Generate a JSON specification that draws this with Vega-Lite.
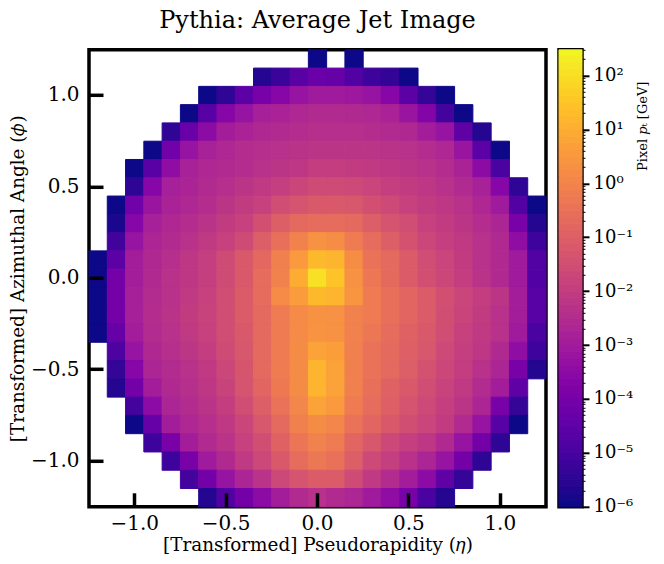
{
  "$schema": "https://vega.github.io/schema/vega-lite/v6.json",
  "description": "Average jet image heatmap with a log colour bar",
  "background": "white",
  "padding": {"left": 6, "top": 6.8, "right": 0, "bottom": 0},
  "spacing": 7,
  "config": {
    "view": {"continuousWidth": 457},
    "axis": {"labelFont": "DejaVu Serif", "titleFont": "DejaVu Serif", "grid": false}
  },
  "hconcat": [
    {
      "title": {"text": "Pythia: Average Jet Image", "font": "DejaVu Serif", "fontSize": 24, "fontWeight": "normal", "anchor": "middle", "offset": 16, "color": "black"},
      "width": 457,
      "height": 457,
      "view": {"stroke": "black", "strokeWidth": 3.5, "fill": "white"},
      "data": {"values": [
        {"eta":0,"phi":1.2,"pt":1e-6},{"eta":0.2,"phi":1.2,"pt":1e-6},
        {"eta":-0.3,"phi":1.1,"pt":2e-6},{"eta":-0.2,"phi":1.1,"pt":5e-6},{"eta":-0.1,"phi":1.1,"pt":2e-5},{"eta":0,"phi":1.1,"pt":5e-5},{"eta":0.1,"phi":1.1,"pt":4e-5},{"eta":0.2,"phi":1.1,"pt":1.5e-5},{"eta":0.3,"phi":1.1,"pt":6e-6},{"eta":0.4,"phi":1.1,"pt":3.5e-6},{"eta":0.5,"phi":1.1,"pt":1e-6},
        {"eta":-0.6,"phi":1.0,"pt":1e-6},{"eta":-0.5,"phi":1.0,"pt":3e-6},{"eta":-0.4,"phi":1.0,"pt":2.5e-5},{"eta":-0.3,"phi":1.0,"pt":1e-4},{"eta":-0.2,"phi":1.0,"pt":2e-4},{"eta":-0.1,"phi":1.0,"pt":5e-4},{"eta":0,"phi":1.0,"pt":8e-4},{"eta":0.1,"phi":1.0,"pt":8e-4},{"eta":0.2,"phi":1.0,"pt":7e-4},{"eta":0.3,"phi":1.0,"pt":5e-4},{"eta":0.4,"phi":1.0,"pt":2e-4},{"eta":0.5,"phi":1.0,"pt":2.5e-5},{"eta":0.6,"phi":1.0,"pt":4e-6},{"eta":0.7,"phi":1.0,"pt":1e-6},
        {"eta":-0.7,"phi":0.9,"pt":1e-6},{"eta":-0.6,"phi":0.9,"pt":2e-5},{"eta":-0.5,"phi":0.9,"pt":2e-4},{"eta":-0.4,"phi":0.9,"pt":5e-4},{"eta":-0.3,"phi":0.9,"pt":1.2e-3},{"eta":-0.2,"phi":0.9,"pt":1.5e-3},{"eta":-0.1,"phi":0.9,"pt":2e-3},{"eta":0,"phi":0.9,"pt":2.5e-3},{"eta":0.1,"phi":0.9,"pt":2.5e-3},{"eta":0.2,"phi":0.9,"pt":2.3e-3},{"eta":0.3,"phi":0.9,"pt":2e-3},{"eta":0.4,"phi":0.9,"pt":1.5e-3},{"eta":0.5,"phi":0.9,"pt":6e-4},{"eta":0.6,"phi":0.9,"pt":1.7e-4},{"eta":0.7,"phi":0.9,"pt":8e-6},{"eta":0.8,"phi":0.9,"pt":1e-6},
        {"eta":-0.8,"phi":0.8,"pt":3e-6},{"eta":-0.7,"phi":0.8,"pt":5e-5},{"eta":-0.6,"phi":0.8,"pt":3e-4},{"eta":-0.5,"phi":0.8,"pt":1e-3},{"eta":-0.4,"phi":0.8,"pt":1.5e-3},{"eta":-0.3,"phi":0.8,"pt":2.2e-3},{"eta":-0.2,"phi":0.8,"pt":2.5e-3},{"eta":-0.1,"phi":0.8,"pt":3e-3},{"eta":0,"phi":0.8,"pt":3.5e-3},{"eta":0.1,"phi":0.8,"pt":3.5e-3},{"eta":0.2,"phi":0.8,"pt":3.5e-3},{"eta":0.3,"phi":0.8,"pt":3e-3},{"eta":0.4,"phi":0.8,"pt":2.5e-3},{"eta":0.5,"phi":0.8,"pt":2.2e-3},{"eta":0.6,"phi":0.8,"pt":1e-3},{"eta":0.7,"phi":0.8,"pt":5e-4},{"eta":0.8,"phi":0.8,"pt":3e-5},{"eta":0.9,"phi":0.8,"pt":2e-6},
        {"eta":-0.9,"phi":0.7,"pt":1e-6},{"eta":-0.8,"phi":0.7,"pt":7e-5},{"eta":-0.7,"phi":0.7,"pt":5e-4},{"eta":-0.6,"phi":0.7,"pt":1.3e-3},{"eta":-0.5,"phi":0.7,"pt":2e-3},{"eta":-0.4,"phi":0.7,"pt":3e-3},{"eta":-0.3,"phi":0.7,"pt":3.5e-3},{"eta":-0.2,"phi":0.7,"pt":4e-3},{"eta":-0.1,"phi":0.7,"pt":4.5e-3},{"eta":0,"phi":0.7,"pt":5e-3},{"eta":0.1,"phi":0.7,"pt":5e-3},{"eta":0.2,"phi":0.7,"pt":5e-3},{"eta":0.3,"phi":0.7,"pt":5e-3},{"eta":0.4,"phi":0.7,"pt":4.5e-3},{"eta":0.5,"phi":0.7,"pt":4e-3},{"eta":0.6,"phi":0.7,"pt":3e-3},{"eta":0.7,"phi":0.7,"pt":2e-3},{"eta":0.8,"phi":0.7,"pt":6e-4},{"eta":0.9,"phi":0.7,"pt":2.5e-5},{"eta":1.0,"phi":0.7,"pt":1e-6},
        {"eta":-1.0,"phi":0.6,"pt":1e-6},{"eta":-0.9,"phi":0.6,"pt":2.2e-5},{"eta":-0.8,"phi":0.6,"pt":3.5e-4},{"eta":-0.7,"phi":0.6,"pt":1.3e-3},{"eta":-0.6,"phi":0.6,"pt":2e-3},{"eta":-0.5,"phi":0.6,"pt":2.5e-3},{"eta":-0.4,"phi":0.6,"pt":3e-3},{"eta":-0.3,"phi":0.6,"pt":4e-3},{"eta":-0.2,"phi":0.6,"pt":5e-3},{"eta":-0.1,"phi":0.6,"pt":6e-3},{"eta":0,"phi":0.6,"pt":9e-3},{"eta":0.1,"phi":0.6,"pt":9e-3},{"eta":0.2,"phi":0.6,"pt":8e-3},{"eta":0.3,"phi":0.6,"pt":7e-3},{"eta":0.4,"phi":0.6,"pt":6e-3},{"eta":0.5,"phi":0.6,"pt":5e-3},{"eta":0.6,"phi":0.6,"pt":4e-3},{"eta":0.7,"phi":0.6,"pt":3e-3},{"eta":0.8,"phi":0.6,"pt":1.5e-3},{"eta":0.9,"phi":0.6,"pt":3e-4},{"eta":1.0,"phi":0.6,"pt":1e-5},
        {"eta":-1.0,"phi":0.5,"pt":3e-6},{"eta":-0.9,"phi":0.5,"pt":2e-4},{"eta":-0.8,"phi":0.5,"pt":1.2e-3},{"eta":-0.7,"phi":0.5,"pt":1.6e-3},{"eta":-0.6,"phi":0.5,"pt":2.5e-3},{"eta":-0.5,"phi":0.5,"pt":3.5e-3},{"eta":-0.4,"phi":0.5,"pt":5e-3},{"eta":-0.3,"phi":0.5,"pt":7e-3},{"eta":-0.2,"phi":0.5,"pt":1e-2},{"eta":-0.1,"phi":0.5,"pt":1.6e-2},{"eta":0,"phi":0.5,"pt":2.2e-2},{"eta":0.1,"phi":0.5,"pt":2.2e-2},{"eta":0.2,"phi":0.5,"pt":2e-2},{"eta":0.3,"phi":0.5,"pt":1.5e-2},{"eta":0.4,"phi":0.5,"pt":1e-2},{"eta":0.5,"phi":0.5,"pt":8e-3},{"eta":0.6,"phi":0.5,"pt":6e-3},{"eta":0.7,"phi":0.5,"pt":4e-3},{"eta":0.8,"phi":0.5,"pt":2.5e-3},{"eta":0.9,"phi":0.5,"pt":1.3e-3},{"eta":1.0,"phi":0.5,"pt":2e-4},{"eta":1.1,"phi":0.5,"pt":3e-6},
        {"eta":-1.1,"phi":0.4,"pt":1e-6},{"eta":-1.0,"phi":0.4,"pt":7e-5},{"eta":-0.9,"phi":0.4,"pt":6e-4},{"eta":-0.8,"phi":0.4,"pt":1.5e-3},{"eta":-0.7,"phi":0.4,"pt":2e-3},{"eta":-0.6,"phi":0.4,"pt":3e-3},{"eta":-0.5,"phi":0.4,"pt":5e-3},{"eta":-0.4,"phi":0.4,"pt":8e-3},{"eta":-0.3,"phi":0.4,"pt":1.2e-2},{"eta":-0.2,"phi":0.4,"pt":2.5e-2},{"eta":-0.1,"phi":0.4,"pt":4e-2},{"eta":0,"phi":0.4,"pt":6e-2},{"eta":0.1,"phi":0.4,"pt":6e-2},{"eta":0.2,"phi":0.4,"pt":5e-2},{"eta":0.3,"phi":0.4,"pt":3e-2},{"eta":0.4,"phi":0.4,"pt":2e-2},{"eta":0.5,"phi":0.4,"pt":1.2e-2},{"eta":0.6,"phi":0.4,"pt":8e-3},{"eta":0.7,"phi":0.4,"pt":6e-3},{"eta":0.8,"phi":0.4,"pt":4e-3},{"eta":0.9,"phi":0.4,"pt":2e-3},{"eta":1.0,"phi":0.4,"pt":8e-4},{"eta":1.1,"phi":0.4,"pt":1.5e-5},{"eta":1.2,"phi":0.4,"pt":1e-6},
        {"eta":-1.1,"phi":0.3,"pt":1.5e-6},{"eta":-1.0,"phi":0.3,"pt":2e-4},{"eta":-0.9,"phi":0.3,"pt":1.2e-3},{"eta":-0.8,"phi":0.3,"pt":2e-3},{"eta":-0.7,"phi":0.3,"pt":3e-3},{"eta":-0.6,"phi":0.3,"pt":4.5e-3},{"eta":-0.5,"phi":0.3,"pt":8e-3},{"eta":-0.4,"phi":0.3,"pt":1.2e-2},{"eta":-0.3,"phi":0.3,"pt":3e-2},{"eta":-0.2,"phi":0.3,"pt":8e-2},{"eta":-0.1,"phi":0.3,"pt":1.7e-1},{"eta":0,"phi":0.3,"pt":2e-1},{"eta":0.1,"phi":0.3,"pt":2e-1},{"eta":0.2,"phi":0.3,"pt":1.7e-1},{"eta":0.3,"phi":0.3,"pt":8e-2},{"eta":0.4,"phi":0.3,"pt":4e-2},{"eta":0.5,"phi":0.3,"pt":2.5e-2},{"eta":0.6,"phi":0.3,"pt":1.2e-2},{"eta":0.7,"phi":0.3,"pt":8e-3},{"eta":0.8,"phi":0.3,"pt":5e-3},{"eta":0.9,"phi":0.3,"pt":3e-3},{"eta":1.0,"phi":0.3,"pt":1.7e-3},{"eta":1.1,"phi":0.3,"pt":1e-4},{"eta":1.2,"phi":0.3,"pt":2e-6},
        {"eta":-1.1,"phi":0.2,"pt":7e-6},{"eta":-1.0,"phi":0.2,"pt":5e-4},{"eta":-0.9,"phi":0.2,"pt":1.7e-3},{"eta":-0.8,"phi":0.2,"pt":2.5e-3},{"eta":-0.7,"phi":0.2,"pt":4e-3},{"eta":-0.6,"phi":0.2,"pt":7e-3},{"eta":-0.5,"phi":0.2,"pt":1.2e-2},{"eta":-0.4,"phi":0.2,"pt":2.2e-2},{"eta":-0.3,"phi":0.2,"pt":8e-2},{"eta":-0.2,"phi":0.2,"pt":2.5e-1},{"eta":-0.1,"phi":0.2,"pt":8e-1},{"eta":0,"phi":0.2,"pt":2},{"eta":0.1,"phi":0.2,"pt":1.5},{"eta":0.2,"phi":0.2,"pt":5e-1},{"eta":0.3,"phi":0.2,"pt":2e-1},{"eta":0.4,"phi":0.2,"pt":8e-2},{"eta":0.5,"phi":0.2,"pt":3.5e-2},{"eta":0.6,"phi":0.2,"pt":1.7e-2},{"eta":0.7,"phi":0.2,"pt":1e-2},{"eta":0.8,"phi":0.2,"pt":7e-3},{"eta":0.9,"phi":0.2,"pt":4e-3},{"eta":1.0,"phi":0.2,"pt":2.3e-3},{"eta":1.1,"phi":0.2,"pt":3.5e-4},{"eta":1.2,"phi":0.2,"pt":6e-6},
        {"eta":-1.2,"phi":0.1,"pt":1e-6},{"eta":-1.1,"phi":0.1,"pt":2.5e-5},{"eta":-1.0,"phi":0.1,"pt":1e-3},{"eta":-0.9,"phi":0.1,"pt":2.2e-3},{"eta":-0.8,"phi":0.1,"pt":3.5e-3},{"eta":-0.7,"phi":0.1,"pt":6e-3},{"eta":-0.6,"phi":0.1,"pt":1e-2},{"eta":-0.5,"phi":0.1,"pt":2.2e-2},{"eta":-0.4,"phi":0.1,"pt":6e-2},{"eta":-0.3,"phi":0.1,"pt":1.6e-1},{"eta":-0.2,"phi":0.1,"pt":7e-1},{"eta":-0.1,"phi":0.1,"pt":3},{"eta":0,"phi":0.1,"pt":16},{"eta":0.1,"phi":0.1,"pt":12},{"eta":0.2,"phi":0.1,"pt":1.5},{"eta":0.3,"phi":0.1,"pt":3e-1},{"eta":0.4,"phi":0.1,"pt":1.7e-1},{"eta":0.5,"phi":0.1,"pt":7e-2},{"eta":0.6,"phi":0.1,"pt":2.5e-2},{"eta":0.7,"phi":0.1,"pt":1.5e-2},{"eta":0.8,"phi":0.1,"pt":8e-3},{"eta":0.9,"phi":0.1,"pt":4e-3},{"eta":1.0,"phi":0.1,"pt":2.3e-3},{"eta":1.1,"phi":0.1,"pt":8e-4},{"eta":1.2,"phi":0.1,"pt":1.5e-5},
        {"eta":-1.2,"phi":0,"pt":1e-6},{"eta":-1.1,"phi":0,"pt":8e-5},{"eta":-1.0,"phi":0,"pt":1e-3},{"eta":-0.9,"phi":0,"pt":2.3e-3},{"eta":-0.8,"phi":0,"pt":4e-3},{"eta":-0.7,"phi":0,"pt":6e-3},{"eta":-0.6,"phi":0,"pt":1e-2},{"eta":-0.5,"phi":0,"pt":2.3e-2},{"eta":-0.4,"phi":0,"pt":6e-2},{"eta":-0.3,"phi":0,"pt":2e-1},{"eta":-0.2,"phi":0,"pt":8e-1},{"eta":-0.1,"phi":0,"pt":8},{"eta":0,"phi":0,"pt":100},{"eta":0.1,"phi":0,"pt":25},{"eta":0.2,"phi":0,"pt":2},{"eta":0.3,"phi":0,"pt":4e-1},{"eta":0.4,"phi":0,"pt":1.8e-1},{"eta":0.5,"phi":0,"pt":7e-2},{"eta":0.6,"phi":0,"pt":3e-2},{"eta":0.7,"phi":0,"pt":1.7e-2},{"eta":0.8,"phi":0,"pt":9e-3},{"eta":0.9,"phi":0,"pt":4.5e-3},{"eta":1.0,"phi":0,"pt":2.3e-3},{"eta":1.1,"phi":0,"pt":8e-4},{"eta":1.2,"phi":0,"pt":1.5e-5},
        {"eta":-1.2,"phi":-0.1,"pt":1e-6},{"eta":-1.1,"phi":-0.1,"pt":8e-5},{"eta":-1.0,"phi":-0.1,"pt":1.2e-3},{"eta":-0.9,"phi":-0.1,"pt":2.7e-3},{"eta":-0.8,"phi":-0.1,"pt":4e-3},{"eta":-0.7,"phi":-0.1,"pt":7e-3},{"eta":-0.6,"phi":-0.1,"pt":1.2e-2},{"eta":-0.5,"phi":-0.1,"pt":2.5e-2},{"eta":-0.4,"phi":-0.1,"pt":7e-2},{"eta":-0.3,"phi":-0.1,"pt":2e-1},{"eta":-0.2,"phi":-0.1,"pt":1.3},{"eta":-0.1,"phi":-0.1,"pt":3.5},{"eta":0,"phi":-0.1,"pt":16},{"eta":0.1,"phi":-0.1,"pt":12},{"eta":0.2,"phi":-0.1,"pt":2.3},{"eta":0.3,"phi":-0.1,"pt":5e-1},{"eta":0.4,"phi":-0.1,"pt":2.5e-1},{"eta":0.5,"phi":-0.1,"pt":1.3e-1},{"eta":0.6,"phi":-0.1,"pt":7e-2},{"eta":0.7,"phi":-0.1,"pt":3e-2},{"eta":0.8,"phi":-0.1,"pt":1.6e-2},{"eta":0.9,"phi":-0.1,"pt":9e-3},{"eta":1.0,"phi":-0.1,"pt":5e-3},{"eta":1.1,"phi":-0.1,"pt":1e-3},{"eta":1.2,"phi":-0.1,"pt":2e-5},
        {"eta":-1.2,"phi":-0.2,"pt":1e-6},{"eta":-1.1,"phi":-0.2,"pt":8e-5},{"eta":-1.0,"phi":-0.2,"pt":1.2e-3},{"eta":-0.9,"phi":-0.2,"pt":3e-3},{"eta":-0.8,"phi":-0.2,"pt":4.5e-3},{"eta":-0.7,"phi":-0.2,"pt":8e-3},{"eta":-0.6,"phi":-0.2,"pt":1.3e-2},{"eta":-0.5,"phi":-0.2,"pt":2.7e-2},{"eta":-0.4,"phi":-0.2,"pt":7e-2},{"eta":-0.3,"phi":-0.2,"pt":1.7e-1},{"eta":-0.2,"phi":-0.2,"pt":5e-1},{"eta":-0.1,"phi":-0.2,"pt":1.3},{"eta":0,"phi":-0.2,"pt":2},{"eta":0.1,"phi":-0.2,"pt":1.8},{"eta":0.2,"phi":-0.2,"pt":8e-1},{"eta":0.3,"phi":-0.2,"pt":5e-1},{"eta":0.4,"phi":-0.2,"pt":2.5e-1},{"eta":0.5,"phi":-0.2,"pt":1.3e-1},{"eta":0.6,"phi":-0.2,"pt":7e-2},{"eta":0.7,"phi":-0.2,"pt":2.8e-2},{"eta":0.8,"phi":-0.2,"pt":1.4e-2},{"eta":0.9,"phi":-0.2,"pt":8e-3},{"eta":1.0,"phi":-0.2,"pt":4e-3},{"eta":1.1,"phi":-0.2,"pt":1e-3},{"eta":1.2,"phi":-0.2,"pt":2e-5},
        {"eta":-1.2,"phi":-0.3,"pt":1e-6},{"eta":-1.1,"phi":-0.3,"pt":4e-5},{"eta":-1.0,"phi":-0.3,"pt":1e-3},{"eta":-0.9,"phi":-0.3,"pt":2.7e-3},{"eta":-0.8,"phi":-0.3,"pt":4e-3},{"eta":-0.7,"phi":-0.3,"pt":7e-3},{"eta":-0.6,"phi":-0.3,"pt":1.2e-2},{"eta":-0.5,"phi":-0.3,"pt":2.5e-2},{"eta":-0.4,"phi":-0.3,"pt":6e-2},{"eta":-0.3,"phi":-0.3,"pt":1.7e-1},{"eta":-0.2,"phi":-0.3,"pt":5e-1},{"eta":-0.1,"phi":-0.3,"pt":1.3},{"eta":0,"phi":-0.3,"pt":2.2},{"eta":0.1,"phi":-0.3,"pt":2},{"eta":0.2,"phi":-0.3,"pt":8e-1},{"eta":0.3,"phi":-0.3,"pt":4e-1},{"eta":0.4,"phi":-0.3,"pt":2e-1},{"eta":0.5,"phi":-0.3,"pt":1e-1},{"eta":0.6,"phi":-0.3,"pt":6e-2},{"eta":0.7,"phi":-0.3,"pt":2.5e-2},{"eta":0.8,"phi":-0.3,"pt":1.2e-2},{"eta":0.9,"phi":-0.3,"pt":7e-3},{"eta":1.0,"phi":-0.3,"pt":4e-3},{"eta":1.1,"phi":-0.3,"pt":8e-4},{"eta":1.2,"phi":-0.3,"pt":1e-5},
        {"eta":-1.1,"phi":-0.4,"pt":1.2e-5},{"eta":-1.0,"phi":-0.4,"pt":5e-4},{"eta":-0.9,"phi":-0.4,"pt":2.2e-3},{"eta":-0.8,"phi":-0.4,"pt":3.5e-3},{"eta":-0.7,"phi":-0.4,"pt":5.5e-3},{"eta":-0.6,"phi":-0.4,"pt":9e-3},{"eta":-0.5,"phi":-0.4,"pt":2.2e-2},{"eta":-0.4,"phi":-0.4,"pt":5e-2},{"eta":-0.3,"phi":-0.4,"pt":1.7e-1},{"eta":-0.2,"phi":-0.4,"pt":5e-1},{"eta":-0.1,"phi":-0.4,"pt":1.4},{"eta":0,"phi":-0.4,"pt":5},{"eta":0.1,"phi":-0.4,"pt":4},{"eta":0.2,"phi":-0.4,"pt":7e-1},{"eta":0.3,"phi":-0.4,"pt":3e-1},{"eta":0.4,"phi":-0.4,"pt":1.8e-1},{"eta":0.5,"phi":-0.4,"pt":9e-2},{"eta":0.6,"phi":-0.4,"pt":5e-2},{"eta":0.7,"phi":-0.4,"pt":2e-2},{"eta":0.8,"phi":-0.4,"pt":1e-2},{"eta":0.9,"phi":-0.4,"pt":6e-3},{"eta":1.0,"phi":-0.4,"pt":2.3e-3},{"eta":1.1,"phi":-0.4,"pt":3.5e-4},{"eta":1.2,"phi":-0.4,"pt":6e-6},
        {"eta":-1.1,"phi":-0.5,"pt":4e-6},{"eta":-1.0,"phi":-0.5,"pt":2e-4},{"eta":-0.9,"phi":-0.5,"pt":1.7e-3},{"eta":-0.8,"phi":-0.5,"pt":2.7e-3},{"eta":-0.7,"phi":-0.5,"pt":4e-3},{"eta":-0.6,"phi":-0.5,"pt":7e-3},{"eta":-0.5,"phi":-0.5,"pt":1.7e-2},{"eta":-0.4,"phi":-0.5,"pt":4.5e-2},{"eta":-0.3,"phi":-0.5,"pt":1.7e-1},{"eta":-0.2,"phi":-0.5,"pt":5e-1},{"eta":-0.1,"phi":-0.5,"pt":1.4},{"eta":0,"phi":-0.5,"pt":12},{"eta":0.1,"phi":-0.5,"pt":5},{"eta":0.2,"phi":-0.5,"pt":7e-1},{"eta":0.3,"phi":-0.5,"pt":3e-1},{"eta":0.4,"phi":-0.5,"pt":1.7e-1},{"eta":0.5,"phi":-0.5,"pt":8e-2},{"eta":0.6,"phi":-0.5,"pt":3.5e-2},{"eta":0.7,"phi":-0.5,"pt":1.7e-2},{"eta":0.8,"phi":-0.5,"pt":9e-3},{"eta":0.9,"phi":-0.5,"pt":4e-3},{"eta":1.0,"phi":-0.5,"pt":1.7e-3},{"eta":1.1,"phi":-0.5,"pt":1e-4},{"eta":1.2,"phi":-0.5,"pt":2e-6},
        {"eta":-1.1,"phi":-0.6,"pt":2e-6},{"eta":-1.0,"phi":-0.6,"pt":8e-5},{"eta":-0.9,"phi":-0.6,"pt":1e-3},{"eta":-0.8,"phi":-0.6,"pt":2.3e-3},{"eta":-0.7,"phi":-0.6,"pt":3.5e-3},{"eta":-0.6,"phi":-0.6,"pt":6e-3},{"eta":-0.5,"phi":-0.6,"pt":1.3e-2},{"eta":-0.4,"phi":-0.6,"pt":4e-2},{"eta":-0.3,"phi":-0.6,"pt":1.3e-1},{"eta":-0.2,"phi":-0.6,"pt":4.5e-1},{"eta":-0.1,"phi":-0.6,"pt":1.4},{"eta":0,"phi":-0.6,"pt":12},{"eta":0.1,"phi":-0.6,"pt":5},{"eta":0.2,"phi":-0.6,"pt":7e-1},{"eta":0.3,"phi":-0.6,"pt":2.5e-1},{"eta":0.4,"phi":-0.6,"pt":1e-1},{"eta":0.5,"phi":-0.6,"pt":6e-2},{"eta":0.6,"phi":-0.6,"pt":2.5e-2},{"eta":0.7,"phi":-0.6,"pt":1.3e-2},{"eta":0.8,"phi":-0.6,"pt":7e-3},{"eta":0.9,"phi":-0.6,"pt":2.7e-3},{"eta":1.0,"phi":-0.6,"pt":1e-3},{"eta":1.1,"phi":-0.6,"pt":3e-5},
        {"eta":-1.0,"phi":-0.7,"pt":8e-6},{"eta":-0.9,"phi":-0.7,"pt":3e-4},{"eta":-0.8,"phi":-0.7,"pt":1.7e-3},{"eta":-0.7,"phi":-0.7,"pt":2.7e-3},{"eta":-0.6,"phi":-0.7,"pt":4.5e-3},{"eta":-0.5,"phi":-0.7,"pt":9e-3},{"eta":-0.4,"phi":-0.7,"pt":2.5e-2},{"eta":-0.3,"phi":-0.7,"pt":8e-2},{"eta":-0.2,"phi":-0.7,"pt":3e-1},{"eta":-0.1,"phi":-0.7,"pt":1},{"eta":0,"phi":-0.7,"pt":5},{"eta":0.1,"phi":-0.7,"pt":3},{"eta":0.2,"phi":-0.7,"pt":5e-1},{"eta":0.3,"phi":-0.7,"pt":2e-1},{"eta":0.4,"phi":-0.7,"pt":9e-2},{"eta":0.5,"phi":-0.7,"pt":4e-2},{"eta":0.6,"phi":-0.7,"pt":2e-2},{"eta":0.7,"phi":-0.7,"pt":1e-2},{"eta":0.8,"phi":-0.7,"pt":5e-3},{"eta":0.9,"phi":-0.7,"pt":1.7e-3},{"eta":1.0,"phi":-0.7,"pt":1e-4},{"eta":1.1,"phi":-0.7,"pt":4e-6},
        {"eta":-1.0,"phi":-0.8,"pt":1e-6},{"eta":-0.9,"phi":-0.8,"pt":4e-5},{"eta":-0.8,"phi":-0.8,"pt":1e-3},{"eta":-0.7,"phi":-0.8,"pt":2e-3},{"eta":-0.6,"phi":-0.8,"pt":3.5e-3},{"eta":-0.5,"phi":-0.8,"pt":6.5e-3},{"eta":-0.4,"phi":-0.8,"pt":1.6e-2},{"eta":-0.3,"phi":-0.8,"pt":5e-2},{"eta":-0.2,"phi":-0.8,"pt":1.7e-1},{"eta":-0.1,"phi":-0.8,"pt":7e-1},{"eta":0,"phi":-0.8,"pt":1.4},{"eta":0.1,"phi":-0.8,"pt":1},{"eta":0.2,"phi":-0.8,"pt":3e-1},{"eta":0.3,"phi":-0.8,"pt":1.3e-1},{"eta":0.4,"phi":-0.8,"pt":6e-2},{"eta":0.5,"phi":-0.8,"pt":2.8e-2},{"eta":0.6,"phi":-0.8,"pt":1.5e-2},{"eta":0.7,"phi":-0.8,"pt":8e-3},{"eta":0.8,"phi":-0.8,"pt":2.5e-3},{"eta":0.9,"phi":-0.8,"pt":5e-4},{"eta":1.0,"phi":-0.8,"pt":2e-5},{"eta":1.1,"phi":-0.8,"pt":1e-6},
        {"eta":-0.9,"phi":-0.9,"pt":6e-6},{"eta":-0.8,"phi":-0.9,"pt":1e-4},{"eta":-0.7,"phi":-0.9,"pt":1e-3},{"eta":-0.6,"phi":-0.9,"pt":2.5e-3},{"eta":-0.5,"phi":-0.9,"pt":4.5e-3},{"eta":-0.4,"phi":-0.9,"pt":1.2e-2},{"eta":-0.3,"phi":-0.9,"pt":2.8e-2},{"eta":-0.2,"phi":-0.9,"pt":1e-1},{"eta":-0.1,"phi":-0.9,"pt":3.5e-1},{"eta":0,"phi":-0.9,"pt":8e-1},{"eta":0.1,"phi":-0.9,"pt":5e-1},{"eta":0.2,"phi":-0.9,"pt":1.3e-1},{"eta":0.3,"phi":-0.9,"pt":5e-2},{"eta":0.4,"phi":-0.9,"pt":1.8e-2},{"eta":0.5,"phi":-0.9,"pt":1e-2},{"eta":0.6,"phi":-0.9,"pt":6e-3},{"eta":0.7,"phi":-0.9,"pt":2.3e-3},{"eta":0.8,"phi":-0.9,"pt":5e-4},{"eta":0.9,"phi":-0.9,"pt":8e-5},{"eta":1.0,"phi":-0.9,"pt":3e-6},
        {"eta":-0.8,"phi":-1.0,"pt":6e-6},{"eta":-0.7,"phi":-1.0,"pt":1e-4},{"eta":-0.6,"phi":-1.0,"pt":8e-4},{"eta":-0.5,"phi":-1.0,"pt":2.3e-3},{"eta":-0.4,"phi":-1.0,"pt":7e-3},{"eta":-0.3,"phi":-1.0,"pt":1.8e-2},{"eta":-0.2,"phi":-1.0,"pt":6e-2},{"eta":-0.1,"phi":-1.0,"pt":2e-1},{"eta":0,"phi":-1.0,"pt":4e-1},{"eta":0.1,"phi":-1.0,"pt":2.8e-1},{"eta":0.2,"phi":-1.0,"pt":8e-2},{"eta":0.3,"phi":-1.0,"pt":2e-2},{"eta":0.4,"phi":-1.0,"pt":1e-2},{"eta":0.5,"phi":-1.0,"pt":4e-3},{"eta":0.6,"phi":-1.0,"pt":1.7e-3},{"eta":0.7,"phi":-1.0,"pt":5e-4},{"eta":0.8,"phi":-1.0,"pt":8e-5},{"eta":0.9,"phi":-1.0,"pt":3e-6},
        {"eta":-0.7,"phi":-1.1,"pt":8e-6},{"eta":-0.6,"phi":-1.1,"pt":8e-5},{"eta":-0.5,"phi":-1.1,"pt":5e-4},{"eta":-0.4,"phi":-1.1,"pt":1.7e-3},{"eta":-0.3,"phi":-1.1,"pt":4.5e-3},{"eta":-0.2,"phi":-1.1,"pt":1.8e-2},{"eta":-0.1,"phi":-1.1,"pt":4e-2},{"eta":0,"phi":-1.1,"pt":7e-2},{"eta":0.1,"phi":-1.1,"pt":7e-2},{"eta":0.2,"phi":-1.1,"pt":2.2e-2},{"eta":0.3,"phi":-1.1,"pt":7e-3},{"eta":0.4,"phi":-1.1,"pt":2.7e-3},{"eta":0.5,"phi":-1.1,"pt":1e-3},{"eta":0.6,"phi":-1.1,"pt":3e-4},{"eta":0.7,"phi":-1.1,"pt":3e-5},{"eta":0.8,"phi":-1.1,"pt":4e-6},
        {"eta":-0.6,"phi":-1.2,"pt":2e-6},{"eta":-0.5,"phi":-1.2,"pt":1.5e-5},{"eta":-0.4,"phi":-1.2,"pt":8e-5},{"eta":-0.3,"phi":-1.2,"pt":3e-4},{"eta":-0.2,"phi":-1.2,"pt":1e-3},{"eta":-0.1,"phi":-1.2,"pt":2.5e-3},{"eta":0,"phi":-1.2,"pt":4e-3},{"eta":0.1,"phi":-1.2,"pt":2.5e-3},{"eta":0.2,"phi":-1.2,"pt":1.8e-3},{"eta":0.3,"phi":-1.2,"pt":8e-4},{"eta":0.4,"phi":-1.2,"pt":3.5e-4},{"eta":0.5,"phi":-1.2,"pt":1e-4},{"eta":0.6,"phi":-1.2,"pt":1e-5},{"eta":0.7,"phi":-1.2,"pt":2e-6}
      ]},
      "mark": {"type": "rect", "opacity": 1, "strokeWidth": 1},
      "encoding": {
        "x": {
          "field": "eta", "type": "ordinal",
          "scale": {"domain": [-1.2,-1.1,-1.0,-0.9,-0.8,-0.7,-0.6,-0.5,-0.4,-0.3,-0.2,-0.1,0,0.1,0.2,0.3,0.4,0.5,0.6,0.7,0.8,0.9,1.0,1.1,1.2], "paddingInner": 0, "paddingOuter": 0, "round": false},
          "axis": {
            "title": "[Transformed] Pseudorapidity (𝜂)", "titleFontSize": 18.4, "titleFontWeight": "normal", "titleColor": "black", "titlePadding": 2,
            "values": [-1.0,-0.5,0,0.5,1.0], "labelAngle": 0, "labelFontSize": 20, "labelColor": "black", "labelPadding": 21,
            "labelExpr": "replace(format(datum.value,'.1f'),'-','−')",
            "tickSize": -14, "tickWidth": 3.5, "tickColor": "black", "domain": false
          }
        },
        "y": {
          "field": "phi", "type": "ordinal",
          "scale": {"domain": [1.2,1.1,1.0,0.9,0.8,0.7,0.6,0.5,0.4,0.3,0.2,0.1,0,-0.1,-0.2,-0.3,-0.4,-0.5,-0.6,-0.7,-0.8,-0.9,-1.0,-1.1,-1.2], "paddingInner": 0, "paddingOuter": 0, "round": false},
          "axis": {
            "title": "[Transformed] Azimuthal Angle (𝜙)", "titleFontSize": 18.4, "titleFontWeight": "normal", "titleColor": "black", "titlePadding": 3,
            "values": [-1.0,-0.5,0,0.5,1.0], "labelFontSize": 20, "labelColor": "black", "labelPadding": 24,
            "labelExpr": "replace(format(datum.value,'.1f'),'-','−')",
            "tickSize": -14, "tickWidth": 3.5, "tickColor": "black", "domain": false
          }
        },
        "color": {"field": "pt", "type": "quantitative", "scale": {"type": "log", "domain": [1e-6, 300], "scheme": "plasma"}, "legend": null},
        "stroke": {"field": "pt", "type": "quantitative", "scale": {"type": "log", "domain": [1e-6, 300], "scheme": "plasma"}, "legend": null}
      }
    },
    {
      "width": 23,
      "height": 457,
      "view": {"stroke": "black", "strokeWidth": 3.5},
      "data": {"values": [
        {"lo":1e-6,"hi":1.33e-6},{"lo":1.33e-6,"hi":1.78e-6},{"lo":1.78e-6,"hi":2.37e-6},{"lo":2.37e-6,"hi":3.16e-6},{"lo":3.16e-6,"hi":4.22e-6},{"lo":4.22e-6,"hi":5.62e-6},{"lo":5.62e-6,"hi":7.5e-6},{"lo":7.5e-6,"hi":1e-5},
        {"lo":1e-5,"hi":1.33e-5},{"lo":1.33e-5,"hi":1.78e-5},{"lo":1.78e-5,"hi":2.37e-5},{"lo":2.37e-5,"hi":3.16e-5},{"lo":3.16e-5,"hi":4.22e-5},{"lo":4.22e-5,"hi":5.62e-5},{"lo":5.62e-5,"hi":7.5e-5},{"lo":7.5e-5,"hi":1e-4},
        {"lo":1e-4,"hi":1.33e-4},{"lo":1.33e-4,"hi":1.78e-4},{"lo":1.78e-4,"hi":2.37e-4},{"lo":2.37e-4,"hi":3.16e-4},{"lo":3.16e-4,"hi":4.22e-4},{"lo":4.22e-4,"hi":5.62e-4},{"lo":5.62e-4,"hi":7.5e-4},{"lo":7.5e-4,"hi":1e-3},
        {"lo":1e-3,"hi":1.33e-3},{"lo":1.33e-3,"hi":1.78e-3},{"lo":1.78e-3,"hi":2.37e-3},{"lo":2.37e-3,"hi":3.16e-3},{"lo":3.16e-3,"hi":4.22e-3},{"lo":4.22e-3,"hi":5.62e-3},{"lo":5.62e-3,"hi":7.5e-3},{"lo":7.5e-3,"hi":1e-2},
        {"lo":1e-2,"hi":1.33e-2},{"lo":1.33e-2,"hi":1.78e-2},{"lo":1.78e-2,"hi":2.37e-2},{"lo":2.37e-2,"hi":3.16e-2},{"lo":3.16e-2,"hi":4.22e-2},{"lo":4.22e-2,"hi":5.62e-2},{"lo":5.62e-2,"hi":7.5e-2},{"lo":7.5e-2,"hi":1e-1},
        {"lo":1e-1,"hi":1.33e-1},{"lo":1.33e-1,"hi":1.78e-1},{"lo":1.78e-1,"hi":2.37e-1},{"lo":2.37e-1,"hi":3.16e-1},{"lo":3.16e-1,"hi":4.22e-1},{"lo":4.22e-1,"hi":5.62e-1},{"lo":5.62e-1,"hi":7.5e-1},{"lo":7.5e-1,"hi":1},
        {"lo":1,"hi":1.33},{"lo":1.33,"hi":1.78},{"lo":1.78,"hi":2.37},{"lo":2.37,"hi":3.16},{"lo":3.16,"hi":4.22},{"lo":4.22,"hi":5.62},{"lo":5.62,"hi":7.5},{"lo":7.5,"hi":10},
        {"lo":10,"hi":13.3},{"lo":13.3,"hi":17.8},{"lo":17.8,"hi":23.7},{"lo":23.7,"hi":31.6},{"lo":31.6,"hi":42.2},{"lo":42.2,"hi":56.2},{"lo":56.2,"hi":75},{"lo":75,"hi":100},
        {"lo":100,"hi":133},{"lo":133,"hi":178},{"lo":178,"hi":237},{"lo":237,"hi":300}
      ]},
      "mark": {"type": "rect", "opacity": 1, "strokeWidth": 1},
      "encoding": {
        "x": {"value": 0},
        "x2": {"value": 23},
        "y": {
          "field": "lo", "type": "quantitative",
          "scale": {"type": "log", "domain": [1e-6, 300], "nice": false},
          "axis": {
            "orient": "right",
            "title": "Pixel 𝑝ₜ [GeV]", "titleFontSize": 13, "titleFontWeight": "normal", "titleColor": "black", "titleAngle": 270, "titleX": 65, "titleY": 76, "titleBaseline": "alphabetic",
            "values": [1e-6,2e-6,3e-6,4e-6,5e-6,6e-6,7e-6,8e-6,9e-6,1e-5,2e-5,3e-5,4e-5,5e-5,6e-5,7e-5,8e-5,9e-5,1e-4,2e-4,3e-4,4e-4,5e-4,6e-4,7e-4,8e-4,9e-4,1e-3,2e-3,3e-3,4e-3,5e-3,6e-3,7e-3,8e-3,9e-3,1e-2,2e-2,3e-2,4e-2,5e-2,6e-2,7e-2,8e-2,9e-2,1e-1,2e-1,3e-1,4e-1,5e-1,6e-1,7e-1,8e-1,9e-1,1,2,3,4,5,6,7,8,9,10,20,30,40,50,60,70,80,90,100,200,300],
            "labelOverlap": false, "labelFontSize": 18, "labelColor": "black", "labelPadding": 4, "labelBound": false, "labelFlush": false,
            "labelExpr": "abs(log(datum.value)/LN10 - round(log(datum.value)/LN10)) < 0.001 ? ['10⁻⁶','10⁻⁵','10⁻⁴','10⁻³','10⁻²','10⁻¹','10⁰','10¹','10²'][round(log(datum.value)/LN10)+6] : ''",
            "tickColor": "black", "domain": false,
            "tickSize": {"condition": {"test": "abs(log(datum.value)/LN10 - round(log(datum.value)/LN10)) < 0.001", "value": 7}, "value": 3},
            "tickWidth": {"condition": {"test": "abs(log(datum.value)/LN10 - round(log(datum.value)/LN10)) < 0.001", "value": 2}, "value": 1}
          }
        },
        "y2": {"field": "hi"},
        "color": {"field": "lo", "type": "quantitative", "scale": {"type": "log", "domain": [1e-6, 300], "scheme": "plasma"}, "legend": null},
        "stroke": {"field": "lo", "type": "quantitative", "scale": {"type": "log", "domain": [1e-6, 300], "scheme": "plasma"}, "legend": null}
      }
    }
  ],
  "resolve": {"scale": {"color": "independent", "stroke": "independent"}}
}
